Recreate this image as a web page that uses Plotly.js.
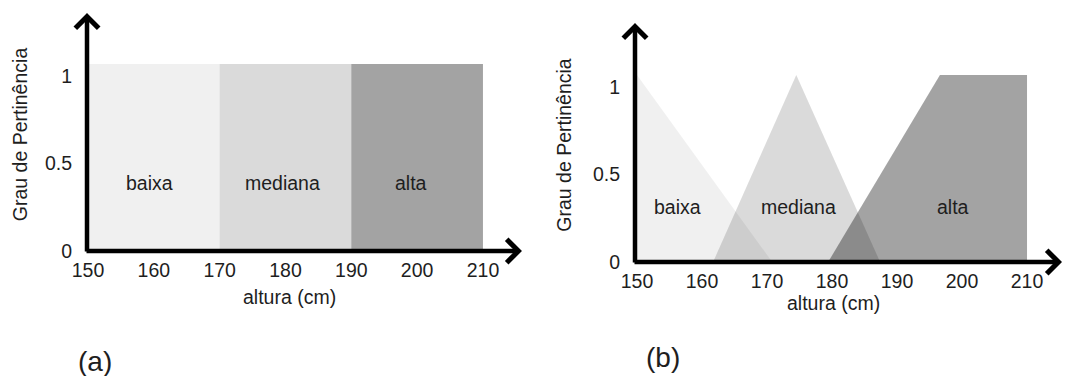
<!DOCTYPE html>
<html>
<head>
<meta charset="utf-8">
<script src="https://cdn.plot.ly/plotly-3.0.1.min.js"></script>
<style>html,body{margin:0;padding:0;background:#fff;}#chart{width:1065px;height:376px;}</style>
</head>
<body>
<div id="chart"></div>
<script>
// ---- data ----
const tickValues = [150, 160, 170, 180, 190, 200, 210];
const tickLabels = ['150', '160', '170', '180', '190', '200', '210'];
const yTickValues = [0, 0.5, 1];
const yTickLabels = ['0', '0.5', '1'];
const categories = ['baixa', 'mediana', 'alta'];
const peak = 1.07;

// (a) crisp sets
const crispStart = [150, 170, 190];
const crispEnd = [170, 190, 210];
const crispLabelX = [159.4, 179.6, 199.1];
const crispLabelY = [0.39, 0.39, 0.39];

// (b) fuzzy sets (vertices)
const fuzzyBaixaX = [150, 150, 170.8];
const fuzzyBaixaY = [0, peak, 0];
const fuzzyMedianaX = [161.7, 174.5, 187.4];
const fuzzyMedianaY = [0, peak, 0];
const fuzzyAltaX = [179.4, 196.6, 210, 210];
const fuzzyAltaY = [0, peak, peak, 0];
const fuzzyLabelX = [156.2, 174.8, 198.6];
const fuzzyLabelY = [0.315, 0.315, 0.315];

const fills = ['rgba(0,0,0,0.06)', 'rgba(0,0,0,0.145)', 'rgba(0,0,0,0.36)'];

// ---- traces ----
const traces = [];
categories.forEach((c, i) => {
  traces.push({
    type: 'scatter', mode: 'lines', xaxis: 'x', yaxis: 'y',
    x: [crispStart[i], crispStart[i], crispEnd[i], crispEnd[i]],
    y: [0, peak, peak, 0],
    fill: 'toself', fillcolor: fills[i], line: {width: 0},
    hoverinfo: 'skip', name: c, showlegend: false
  });
});
const fuzzyX = [fuzzyBaixaX, fuzzyMedianaX, fuzzyAltaX];
const fuzzyY = [fuzzyBaixaY, fuzzyMedianaY, fuzzyAltaY];
categories.forEach((c, i) => {
  traces.push({
    type: 'scatter', mode: 'lines', xaxis: 'x2', yaxis: 'y2',
    x: fuzzyX[i], y: fuzzyY[i],
    fill: 'toself', fillcolor: fills[i], line: {width: 0},
    hoverinfo: 'skip', name: c, showlegend: false
  });
});

const FONT = 'Liberation Sans, Arial, sans-serif';
const TXT = '#1e1e1e';
const fs = 19.5;

const annotations = [];
categories.forEach((c, i) => {
  annotations.push({xref: 'x', yref: 'y', x: crispLabelX[i], y: crispLabelY[i], text: c, showarrow: false,
    xanchor: 'center', yanchor: 'middle', font: {family: FONT, size: fs, color: TXT}});
  annotations.push({xref: 'x2', yref: 'y2', x: fuzzyLabelX[i], y: fuzzyLabelY[i], text: c, showarrow: false,
    xanchor: 'center', yanchor: 'middle', font: {family: FONT, size: fs, color: TXT}});
});

function arrow(xpx, ypx, ax, ay) {
  return {xref: 'paper', yref: 'paper', x: xpx / 1065, y: (376 - ypx) / 376, ax: ax, ay: ay,
    text: '', showarrow: true, arrowhead: 4, arrowsize: 1, arrowwidth: 4.5, arrowcolor: '#000', standoff: 0};
}
annotations.push(arrow(522, 251, -437, 0));
annotations.push(arrow(87, 13, 0, 240));
annotations.push(arrow(1062, 262, -429, 0));
annotations.push(arrow(635, 23, 0, 241));

function label(xpx, ypx, text, size) {
  return {xref: 'paper', yref: 'paper', x: xpx / 1065, y: (376 - ypx) / 376, text: text, showarrow: false,
    xanchor: 'center', yanchor: 'middle', font: {family: FONT, size: size, color: TXT}};
}
// x titles and panel labels
annotations.push(label(289, 297, 'altura (cm)', fs));
annotations.push(label(833, 303, 'altura (cm)', fs));
annotations.push(label(95, 361, '(a)', 28));
annotations.push(label(663, 357, '(b)', 28));

const xCommon = {tickmode: 'array', tickvals: tickValues, ticktext: tickLabels, showgrid: false, zeroline: false,
  showline: false, ticks: '', tickfont: {family: FONT, size: fs, color: TXT}, fixedrange: true};
const yCommon = {tickmode: 'array', tickvals: yTickValues, ticktext: yTickLabels, showgrid: false, zeroline: false,
  showline: false, ticks: '', tickfont: {family: FONT, size: fs, color: TXT}, ticklabelstandoff: 14, fixedrange: true};

const layout = {
  width: 1065, height: 376,
  margin: {l: 0, r: 0, t: 0, b: 0},
  paper_bgcolor: '#fff', plot_bgcolor: 'rgba(0,0,0,0)',
  showlegend: false,
  xaxis: Object.assign({}, xCommon, {domain: [87 / 1065, 522 / 1065], range: [149.85, 215.93], anchor: 'y'}),
  yaxis: Object.assign({}, yCommon, {domain: [(376 - 256) / 376, (376 - 13) / 376], range: [-0.0286, 1.3616], anchor: 'x',
    title: {text: 'Grau de Pertinência', standoff: 12, font: {family: FONT, size: fs, color: TXT}}}),
  xaxis2: Object.assign({}, xCommon, {domain: [635 / 1065, 1062 / 1065], range: [149.69, 215.38], anchor: 'y2'}),
  yaxis2: Object.assign({}, yCommon, {domain: [(376 - 267) / 376, (376 - 23) / 376], range: [-0.0286, 1.3673], anchor: 'x2',
    title: {text: 'Grau de Pertinência', standoff: 16, font: {family: FONT, size: fs, color: TXT}}}),
  annotations: annotations
};

Plotly.newPlot('chart', traces, layout, {staticPlot: true, displayModeBar: false});
</script>
</body>
</html>
